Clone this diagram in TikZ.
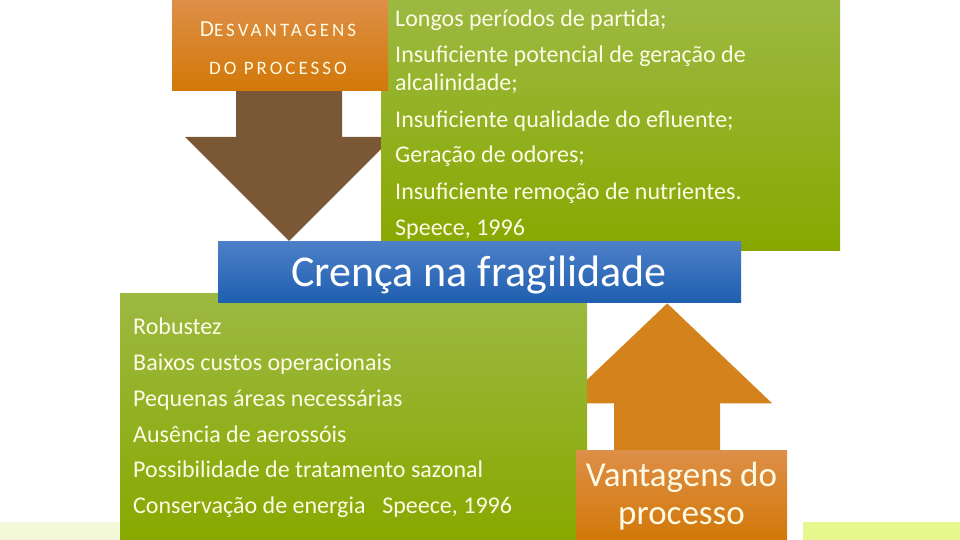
\documentclass[tikz,border=0pt]{standalone}
\usepackage{fontspec}
\setmainfont{Carlito}
\usetikzlibrary{calc}
\pgfdeclarelayer{bg}
\pgfsetlayers{bg,main}
\definecolor{cream}{HTML}{FDFBE6}
\definecolor{orTop}{HTML}{DE8F48}
\definecolor{orBot}{HTML}{D27808}
\definecolor{grTop}{HTML}{9CB942}
\definecolor{grBot}{HTML}{88A800}
\definecolor{blTop}{HTML}{4D80C8}
\definecolor{blBot}{HTML}{1F5FB0}
\definecolor{brownarrow}{HTML}{7A5836}
\definecolor{orarrow}{HTML}{D3821C}
\definecolor{stripL}{HTML}{F2F8D8}
\definecolor{stripR}{HTML}{E6F78E}
\tikzset{
  box/.style={draw=none, inner sep=0pt, anchor=north west},
  orbox/.style={box, top color=orTop, bottom color=orBot},
  grbox/.style={box, top color=grTop, bottom color=grBot},
  blbox/.style={box, top color=blTop, bottom color=blBot},
  item/.style={anchor=base west, inner sep=0pt, text=cream, font=\fontsize{24}{24}\selectfont},
}
\begin{document}
\begin{tikzpicture}[x=1pt,y=-1pt]
\useasboundingbox (0,0) rectangle (960,540);
% bottom strips
\fill[stripL] (0,522) rectangle (120,540);
\fill[stripR] (803,522) rectangle (960,540);
% disadvantages
\node[grbox, minimum width=459pt, minimum height=250pt] (dis) at (381,0) {};
\node[orbox, minimum width=216pt, minimum height=90pt] (desv) at (172,0) {};
\node[anchor=base, inner sep=0pt, text=cream] (desvt1) at (278,36.5)
  {\fontsize{23}{23}\selectfont D\addfontfeatures{LetterSpace=16}\fontsize{19}{19}\selectfont ESVANTAGENS};
\node[anchor=base, inner sep=0pt, text=cream] (desvt2) at (278,74.5)
  {\addfontfeatures{LetterSpace=16}\fontsize{19}{19}\selectfont DO PROCESSO};
\node[item] (d1) at (395,27) {Longos períodos de partida;};
\node[item] (d2) at (395,63) {Insuficiente potencial de geração de};
\node[item] (d3) at (395,91) {alcalinidade;};
\node[item] (d4) at (395,128) {Insuficiente qualidade do efluente;};
\node[item] (d5) at (395,163) {Geração de odores;};
\node[item] (d6) at (395,200) {Insuficiente remoção de nutrientes.};
\node[item] (d7) at (395,235) {Speece, 1996};
% advantages
\node[grbox, minimum width=467pt, minimum height=247pt] (van) at (120,293) {};
\node[item] (v1) at (133,334) {Robustez};
\node[item] (v2) at (133,370) {Baixos custos operacionais};
\node[item] (v3) at (133,406) {Pequenas áreas necessárias};
\node[item] (v4) at (133,442) {Ausência de aerossóis};
\node[item] (v5) at (133,477) {Possibilidade de tratamento sazonal};
\node[item] (v6) at (133,513) {Conservação de energia\hspace{0.7em}Speece, 1996};
% central blue box
\node[blbox, minimum width=523pt, minimum height=61pt] (cren) at (218,241) {};
\node[anchor=base, inner sep=0pt, text=white, font=\fontsize{44}{44}\selectfont] (crent) at (479,286) {Crença na fragilidade};
% vantagens box
\node[orbox, minimum width=211pt, minimum height=90pt] (vant) at (576,450) {};
\node[anchor=base, inner sep=0pt, text=cream, font=\fontsize{35}{35}\selectfont] (vt1) at (681.5,486) {Vantagens do};
\node[anchor=base, inner sep=0pt, text=cream, font=\fontsize{35}{35}\selectfont] (vt2) at (681.5,524) {processo};
% block arrows behind the boxes
\begin{pgfonlayer}{bg}
  \coordinate (bs) at ($(desv.south)+(9,0)$);
  \coordinate (be) at (bs |- cren.north);
  \fill[brownarrow] ($(bs)+(-53,0)$) -- ($(be)+(-53,-104)$) -- ($(be)+(-104,-104)$)
    -- (be) -- ($(be)+(104,-104)$) -- ($(be)+(53,-104)$) -- ($(bs)+(53,0)$) -- cycle;
  \coordinate (os) at ($(vant.north)+(-14.5,0)$);
  \coordinate (oe) at ($(os |- cren.south)+(0,1)$);
  \fill[orarrow] ($(os)+(-53,0)$) -- ($(oe)+(-53,100)$) -- ($(oe)+(-105,100)$)
    -- (oe) -- ($(oe)+(105,100)$) -- ($(oe)+(53,100)$) -- ($(os)+(53,0)$) -- cycle;
\end{pgfonlayer}
\end{tikzpicture}
\end{document}
